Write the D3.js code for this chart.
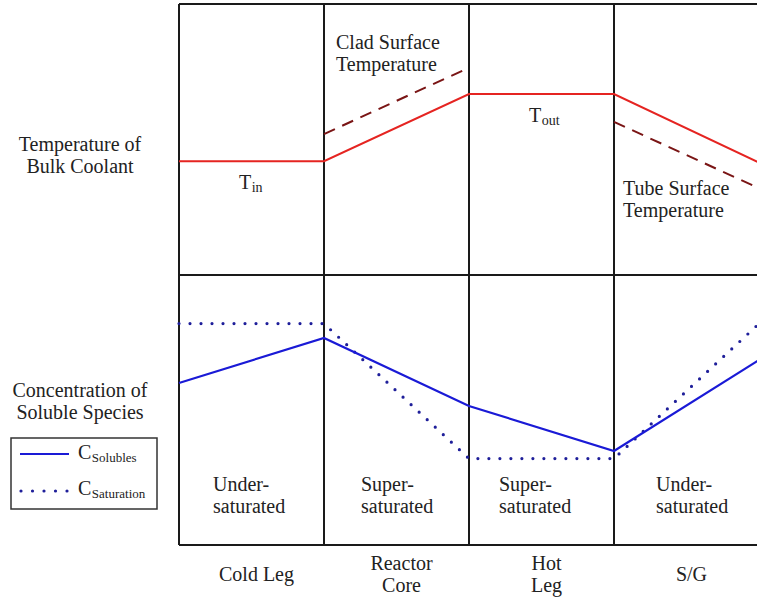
<!DOCTYPE html>
<html><head><meta charset="utf-8">
<script src="https://cdn.jsdelivr.net/npm/d3@7"></script>
<style>
html,body{margin:0;padding:0;background:#fff;}
svg{display:block;}
</style></head>
<body><svg id="c" width="757" height="599"></svg>
<script>
// ---- data (arbitrary schematic units) ----
const stations = [0, 1, 2, 3, 4]; // boundaries: start, cold leg/core, core/hot leg, hot leg/SG, end
const categories = [["Cold Leg"], ["Reactor", "Core"], ["Hot", "Leg"], ["S/G"]];
const regionLabels = [["Under-", "saturated"], ["Super-", "saturated"], ["Super-", "saturated"], ["Under-", "saturated"]];
const bulkTemp = [42, 42, 66.8, 66.8, 41.5];
const cladTemp = [{s: 1, v: 52}, {s: 2, v: 76.5}];
const tubeTemp = [{s: 3, v: 56.5}, {s: 4, v: 32}];
const cSolubles = [60, 76.7, 51.5, 34.8, 68.5];
const cSaturation = [82, 82, 32, 32, 82];

const FONT = "Liberation Serif";
const TEXTCOL = "#222";
const svg = d3.select("#c");
const x = d3.scaleLinear().domain([0, 4]).range([179, 759]);
const yT = d3.scaleLinear().domain([0, 100]).range([275, 4]);
const yC = d3.scaleLinear().domain([0, 100]).range([545, 275]);

// grid
const g = svg.append("g").attr("stroke", "#1a1a1a").attr("stroke-width", 2);
g.append("line").attr("x1", x(0)).attr("x2", x(4)).attr("y1", yT(100)).attr("y2", yT(100));
g.append("line").attr("x1", x(0)).attr("x2", x(4)).attr("y1", yT(0)).attr("y2", yT(0));
g.append("line").attr("x1", x(0)).attr("x2", x(4)).attr("y1", yC(0)).attr("y2", yC(0));
stations.slice(0, 4).forEach(s => {
  g.append("line").attr("x1", x(s)).attr("x2", x(s)).attr("y1", yT(100)).attr("y2", yC(0));
});

// temperature lines
const lineT = d3.line().x((d, i) => x(stations[i])).y(d => yT(d));
svg.append("path").attr("d", lineT(bulkTemp)).attr("fill", "none")
  .attr("stroke", "#e52421").attr("stroke-width", 2);
const lineS = d3.line().x(d => x(d.s)).y(d => yT(d.v));
[cladTemp, tubeTemp].forEach(arr => {
  svg.append("path").attr("d", lineS(arr)).attr("fill", "none")
    .attr("stroke", "#7a1515").attr("stroke-width", 2).attr("stroke-dasharray", "12,8");
});

// concentration lines
const lineC = d3.line().x((d, i) => x(stations[i])).y(d => yC(d));
svg.append("path").attr("d", lineC(cSaturation)).attr("fill", "none")
  .attr("stroke", "#1f1f9a").attr("stroke-width", 3.2).attr("stroke-linecap", "round")
  .attr("stroke-dasharray", "0,11");
svg.append("path").attr("d", lineC(cSolubles)).attr("fill", "none")
  .attr("stroke", "#1a1ad6").attr("stroke-width", 2.2);

// text helpers: one <text> per line, font set on every element
function txt(xp, y, s, anchor, fs) {
  return svg.append("text").attr("x", xp).attr("y", y).attr("font-size", fs || 20)
    .attr("font-family", FONT).style("font-family", FONT)
    .attr("fill", TEXTCOL).attr("text-anchor", anchor || "start").text(s);
}
function multi(xp, y0, lines, anchor, dy) {
  lines.forEach((l, i) => txt(xp, y0 + i * dy, l, anchor, 20));
}
function sub(xp, y0, main, s, fs, sfs) {
  const t = txt(xp, y0, main, "start", fs);
  const w = t.node().getComputedTextLength();
  txt(xp + w + 0.5, y0 + 3, s, "start", sfs);
}

// left labels
multi(80, 151, ["Temperature of", "Bulk Coolant"], "middle", 22);
multi(80, 397, ["Concentration of", "Soluble Species"], "middle", 22);

// temperature annotations
multi(336, 49, ["Clad Surface", "Temperature"], "start", 22);
multi(623, 195, ["Tube Surface", "Temperature"], "start", 22);
sub(239, 189, "T", "in", 20, 14);
sub(529, 122, "T", "out", 20, 14);

// region labels
const regionX = [213, 361, 499, 656];
regionLabels.forEach((r, i) => multi(regionX[i], 491, r, "start", 22));

// category labels
categories.forEach((c, i) => {
  const cx = x(i + 0.5) + 5;
  if (c.length === 1) multi(cx, 581, c, "middle", 22);
  else multi(cx, 570, c, "middle", 22);
});

// legend
svg.append("rect").attr("x", 11).attr("y", 438).attr("width", 146).attr("height", 71)
  .attr("fill", "#fff").attr("stroke", "#333").attr("stroke-width", 1.5);
svg.append("line").attr("x1", 20).attr("x2", 69).attr("y1", 454).attr("y2", 454)
  .attr("stroke", "#1a1ad6").attr("stroke-width", 2.2);
svg.append("line").attr("x1", 21).attr("x2", 68).attr("y1", 491).attr("y2", 491)
  .attr("stroke", "#1f1f9a").attr("stroke-width", 3.2).attr("stroke-linecap", "round")
  .attr("stroke-dasharray", "0,11.5");
sub(78, 459, "C", "Solubles", 20, 13);
sub(78, 495, "C", "Saturation", 20, 13);
</script></body></html>
